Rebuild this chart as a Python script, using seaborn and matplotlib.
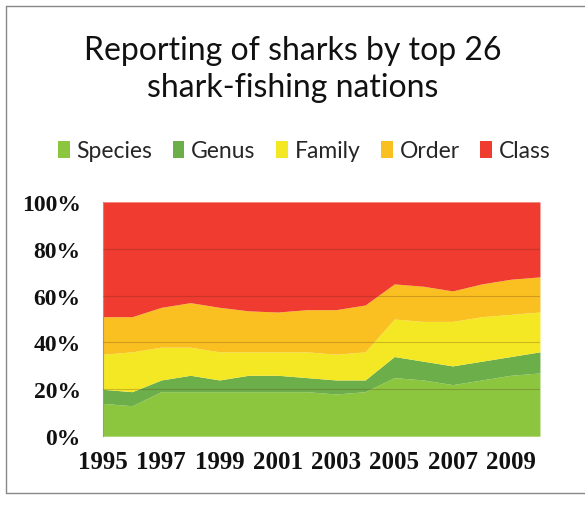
"""Stacked share of shark catch reporting level, top 26 shark-fishing nations."""

import numpy as np
import matplotlib
matplotlib.use("Agg")
import matplotlib.pyplot as plt
import seaborn as sns
from matplotlib.lines import Line2D
from matplotlib.patches import Patch
from matplotlib.ticker import PercentFormatter

# ---- data (percent of reported catch) ----
years = list(range(1995, 2011))
species = [14, 13, 19, 19, 19, 19, 19, 19, 18, 19, 25, 24, 22, 24, 26, 27]
genus = [6, 6, 5, 7, 5, 7, 7, 6, 6, 5, 9, 8, 8, 8, 8, 9]
family = [15, 17, 14, 12, 12, 10, 10, 11, 11, 12, 16, 17, 19, 19, 18, 17]
order = [16, 15, 17, 19, 19, 17.5, 17, 18, 19, 20, 15, 15, 13, 14, 15, 15]
cls = [100 - (a + b + c + d) for a, b, c, d in zip(species, genus, family, order)]

labels = ["Species", "Genus", "Family", "Order", "Class"]
colors = ["#8CC63F", "#6CAE4A", "#F4E824", "#FAC022", "#EF3B30"]
xtick_years = list(range(1995, 2010, 2))
ytick_vals = [0, 20, 40, 60, 80, 100]

sns.set_theme(style="white")
plt.rcParams["font.family"] = ["Lato", "DejaVu Sans"]

fig = plt.figure(figsize=(5.85, 5.06), dpi=100)
ax = fig.add_axes([0.176, 0.136, 0.747, 0.463])

palette = sns.color_palette(colors)
ax.stackplot(years, species, genus, family, order, cls,
             colors=palette, linewidth=0)

# faint gridlines show through the areas
for y in ytick_vals[1:-1]:
    ax.axhline(y, color="#5a2a10", lw=0.8, alpha=0.25, zorder=3)

ax.set_xlim(years[0], years[-1])
ax.set_ylim(0, 100)
ax.set_xticks(xtick_years)
ax.set_xticklabels([str(y) for y in xtick_years],
                   fontfamily="Liberation Serif", fontweight="bold", fontsize=18)
ax.set_yticks(ytick_vals)
ax.yaxis.set_major_formatter(PercentFormatter(decimals=0))
for t in ax.get_yticklabels():
    t.set_fontfamily("Liberation Serif")
    t.set_fontweight("bold")
    t.set_fontsize(17)
ax.tick_params(axis="x", length=0, pad=10, colors="#111111")
ax.tick_params(axis="y", length=0, pad=16, colors="#111111")
for s in ax.spines.values():
    s.set_visible(False)
ax.spines["left"].set_visible(True)
ax.spines["left"].set_color("#999999")
ax.spines["left"].set_linewidth(0.8)

fig.text(0.5, 0.900, "Reporting of sharks by top 26", ha="center", va="center",
         fontsize=23, color="#111111")
fig.text(0.5, 0.826, "shark-fishing nations", ha="center", va="center",
         fontsize=23, color="#111111")

handles = [Patch(facecolor=c, edgecolor="none") for c in colors]
fig.legend(handles, labels, loc="center", bbox_to_anchor=(0.52, 0.700),
           ncol=5, frameon=False, fontsize=16.5, handlelength=0.5,
           handleheight=0.8, handletextpad=0.3, columnspacing=0.9)

# outer chart frame
frame_kw = dict(color="#888888", lw=1.0, transform=fig.transFigure)
fig.add_artist(Line2D([0.010, 0.010], [0.024, 0.986], **frame_kw))
fig.add_artist(Line2D([0.010, 1.0], [0.986, 0.986], **frame_kw))
fig.add_artist(Line2D([0.010, 1.0], [0.024, 0.024], **frame_kw))

fig.savefig("out.png", dpi=100)
plt.close(fig)
